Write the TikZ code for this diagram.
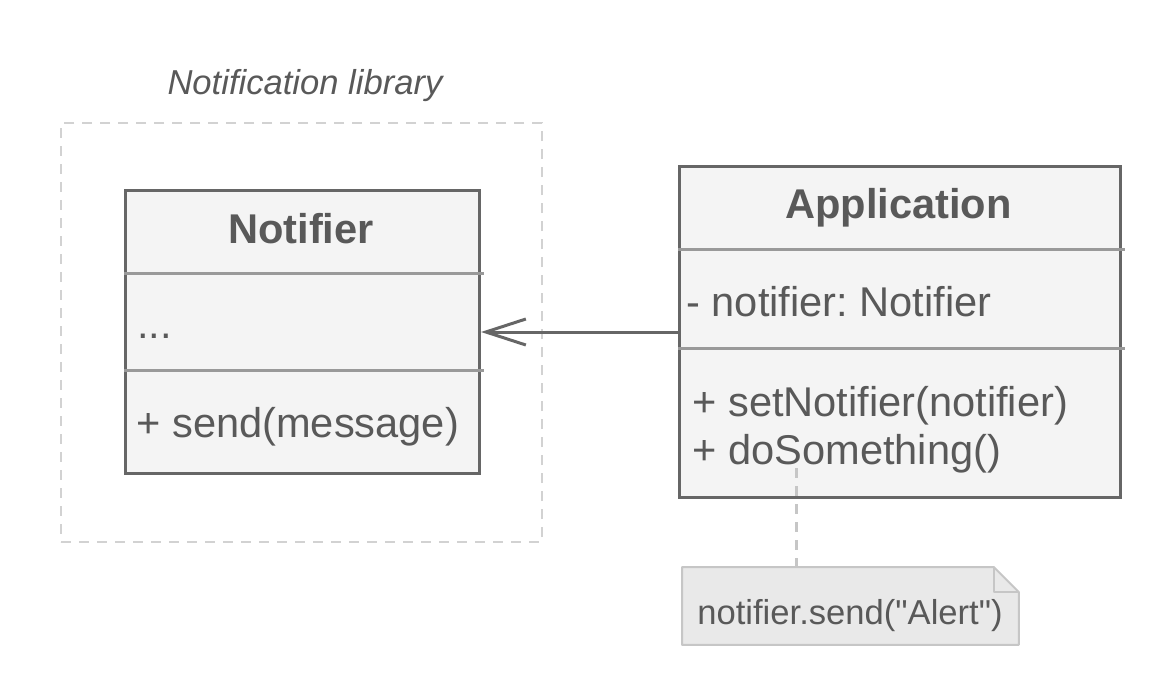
\documentclass[tikz,border=0pt]{standalone}
\usepackage{fontspec}
\setmainfont{Liberation Sans}[Ligatures=TeXOff]
\usetikzlibrary{arrows.meta}
\definecolor{umlline}{HTML}{666666}
\definecolor{umlfill}{HTML}{F4F4F4}
\definecolor{umlsep}{HTML}{999999}
\definecolor{umltext}{HTML}{595959}
\definecolor{libframe}{HTML}{D2D2D2}
\definecolor{notefill}{HTML}{E9E9E9}
\definecolor{noteline}{HTML}{C6C6C6}
\frenchspacing
\begin{document}
\begin{tikzpicture}
		[x=0.5pt, y=-0.5pt,
		every node/.style={text=umltext, inner sep=0pt},
		classbox/.style={draw=umlline, fill=umlfill, line width=1.5pt, anchor=north west},
		classtitle/.style={font=\fontsize{20.8}{24}\selectfont\bfseries, anchor=base},
		member/.style={font=\fontsize{20.8}{24}\selectfont, anchor=base west},
		sep/.style={draw=umlsep, line width=1.5pt},
		libbox/.style={draw=libframe, line width=1.2pt, dash pattern=on 5pt off 4pt, anchor=north west},
		assoc/.style={draw=umlline, line width=1.5pt, -{Straight Barb[length=20pt, width=13pt, line width=1.5pt]}},
		notelink/.style={draw=noteline, line width=1.5pt, dash pattern=on 5pt off 4pt},
		]

		\useasboundingbox (0,0) rectangle (1172,700);

		% package frame
		\node[libbox, minimum width=240.5pt, minimum height=209.5pt] (lib) at (60,122) {};
		\node[font=\fontsize{17.3}{20}\selectfont\itshape, anchor=base] (libname) at (305,95) {Notification library};

		% class Notifier
		\node[classbox, minimum width=177pt, minimum height=141.5pt] (notifier) at (124,189) {};
		\node[classtitle] (ntitle) at (301,243) {Notifier};
		\draw[sep] (124,274) -- (484,274);
		\draw[sep] (124,370) -- (484,370);
		\node[member] (nattr) at (137,338) {...};
		\node[member] (nop) at (136,437) {+ send(message)};

		% class Application
		\node[classbox, minimum width=220.5pt, minimum height=165.5pt] (app) at (678,165) {};
		\node[classtitle] (atitle) at (898.5,219) {Application};
		\draw[sep] (678,250) -- (1125,250);
		\draw[sep] (678,348) -- (1125,348);
		\node[member] (aattr) at (686,316) {- notifier: Notifier};
		\node[member] (aop1) at (692,416) {+ setNotifier(notifier)};
		\node[member] (aop2) at (692,464) {+ doSomething()};

		\draw[assoc] (app.west) -- (notifier.east);

		% note
		\node[minimum width=168pt, minimum height=38.5pt, anchor=north west] (note) at (682,567) {};
		\fill[notefill] (note.north west) -- ([xshift=-12.5pt]note.north east) -- ([yshift=-12.5pt]note.north east) -- (note.south east) -- (note.south west) -- cycle;
		\draw[noteline, line width=1pt, line join=round] (note.north west) -- ([xshift=-12.5pt]note.north east) -- ([yshift=-12.5pt]note.north east) -- (note.south east) -- (note.south west) -- cycle;
		\draw[noteline, line width=1pt, line join=round] ([xshift=-12.5pt]note.north east) -- ([xshift=-12.5pt, yshift=-12.5pt]note.north east) -- ([yshift=-12.5pt]note.north east);
		\node[font=\fontsize{17.3}{20}\selectfont, anchor=base] (notetext) at (850,624) {notifier.send("Alert")};

		\coordinate (linkstart) at (796,468);
		\draw[notelink] (linkstart) -- (linkstart |- note.north);
	\end{tikzpicture}
\end{document}
